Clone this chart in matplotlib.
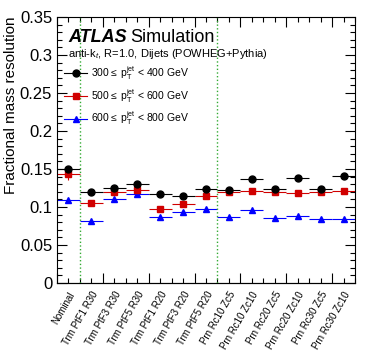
import matplotlib
matplotlib.use("Agg")
import matplotlib.pyplot as plt
import numpy as np
from matplotlib.lines import Line2D
from matplotlib.ticker import MultipleLocator, NullFormatter

plt.rcParams['font.family'] = ['Liberation Sans', 'DejaVu Sans']
plt.rcParams['mathtext.fontset'] = 'custom'
plt.rcParams['mathtext.rm'] = 'Liberation Sans'
plt.rcParams['mathtext.it'] = 'Liberation Sans:italic'

categories = ['Nominal', 'Trm PtF1 R30', 'Trm PtF3 R30', 'Trm PtF5 R30',
              'Trm PtF1 R20', 'Trm PtF3 R20', 'Trm PtF5 R20',
              'Prn Rc10 Zc5', 'Prn Rc10 Zc10', 'Prn Rc20 Zc5',
              'Prn Rc20 Zc10', 'Prn Rc30 Zc5', 'Prn Rc30 Zc10']

res_300_400 = [0.150, 0.120, 0.125, 0.130, 0.1175, 0.114, 0.1237,
               0.122, 0.1364, 0.1232, 0.138, 0.1232, 0.1404]
res_500_600 = [0.143, 0.1057, 0.1197, 0.1224, 0.097, 0.1044, 0.1145,
               0.120, 0.1215, 0.1197, 0.1184, 0.1193, 0.1206]
res_600_800 = [0.1096, 0.0816, 0.111, 0.1167, 0.0873, 0.093, 0.097,
               0.0868, 0.0956, 0.085, 0.0886, 0.0838, 0.0846]
err_500_600 = [0.008, 0.002, 0.002, 0.002, 0.002, 0.002, 0.002,
               0.002, 0.002, 0.002, 0.002, 0.002, 0.002]

labels = [r'300$\leq$ p$_{\mathrm{T}}^{\mathrm{jet}}$ < 400 GeV',
          r'500$\leq$ p$_{\mathrm{T}}^{\mathrm{jet}}$ < 600 GeV',
          r'600$\leq$ p$_{\mathrm{T}}^{\mathrm{jet}}$ < 800 GeV']

fig = plt.figure(figsize=(3.74, 3.55), dpi=100)
ax = fig.add_axes([57/374, 1-283/355, 298/374, 266/355])

x = np.arange(len(categories)) + 0.5

ax.errorbar(x, res_600_800, xerr=0.5, fmt='^', color='blue', ms=5, elinewidth=0.8, capsize=0)
ax.errorbar(x, res_500_600, xerr=0.5, yerr=err_500_600, fmt='s', color='#d00000', ms=5, elinewidth=0.8, capsize=0)
ax.errorbar(x, res_300_400, xerr=0.5, fmt='o', color='black', ms=5, elinewidth=0.8, capsize=0)

# separators between nominal / trimming / pruning
for xs in [1, 7]:
    ax.axvline(xs, color='#33aa33', ls=':', lw=1)

ax.set_xlim(0, len(categories))
ax.set_ylim(0, 0.35)

ax.yaxis.set_minor_locator(MultipleLocator(0.01))
ax.set_yticks(np.arange(0, 0.351, 0.05))
ax.set_yticklabels(['0', '0.05', '0.1', '0.15', '0.2', '0.25', '0.3', '0.35'])

ax.xaxis.set_major_locator(MultipleLocator(2))
ax.xaxis.set_minor_locator(MultipleLocator(0.5))
ax.xaxis.set_major_formatter(NullFormatter())

ax.tick_params(which='both', direction='in', top=True, right=True, labelsize=12)
ax.tick_params(which='major', length=7, width=0.8)
ax.tick_params(which='minor', length=3.5, width=0.8)

sec = ax.secondary_xaxis('bottom')
sec.set_xticks(x)
sec.set_xticklabels(categories, rotation=60, ha='right', rotation_mode='anchor', fontsize=7)
sec.tick_params(length=0, pad=5)

ax.set_ylabel('Fractional mass resolution', fontsize=11, loc='top')
ax.yaxis.set_label_coords(-0.13, 1.0)

ax.text(0.037, 0.906, 'ATLAS', transform=ax.transAxes, fontsize=13,
        fontweight='bold', style='italic', va='baseline')
ax.text(0.245, 0.906, 'Simulation', transform=ax.transAxes, fontsize=13, va='baseline')
ax.text(0.037, 0.85, r'anti-k$_{t}$, R=1.0, Dijets (POWHEG+Pythia)',
        transform=ax.transAxes, fontsize=8, va='baseline')

handles = [Line2D([], [], color='black', marker='o', ms=5, lw=0.8),
           Line2D([], [], color='#d00000', marker='s', ms=5, lw=0.8),
           Line2D([], [], color='blue', marker='^', ms=5, lw=0.8)]
ax.legend(handles, labels, loc='upper left', bbox_to_anchor=(0.0, 0.85),
          frameon=False, fontsize=7.5, handlelength=2.2, labelspacing=0.45,
          handletextpad=0.4, borderpad=0.2)

fig.savefig('out.png', dpi=100)
